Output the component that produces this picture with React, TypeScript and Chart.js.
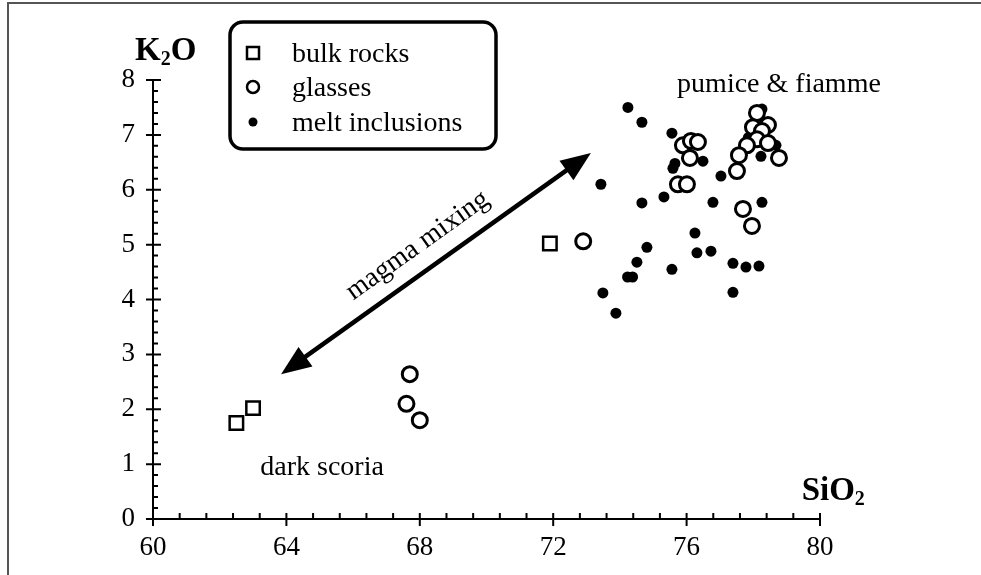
import { useEffect, useRef } from "react";
import { Chart, registerables } from "chart.js";

Chart.register(...registerables);

// ---- data (SiO2 wt%, K2O wt%) ----
const bulkRocksSiO2 = [62.5, 63.0, 71.9];
const bulkRocksK2O = [1.75, 2.02, 5.02];

const glassesSiO2 = [
  67.7, 67.6, 68.0, 72.9,
  75.89, 76.13, 76.34, 76.1, 75.74, 76.01,
  78.11, 78.44, 77.99, 78.26, 78.11, 78.44, 77.81, 77.57, 77.51, 78.77,
  77.69, 77.96,
];
const glassesK2O = [
  2.64, 2.1, 1.8, 5.06,
  6.81, 6.89, 6.87, 6.58, 6.1, 6.1,
  7.4, 7.18, 7.14, 7.07, 6.92, 6.85, 6.81, 6.63, 6.34, 6.58,
  5.65, 5.34,
];

const meltSiO2 = [
  74.24, 74.66, 75.56, 76.49, 75.65, 75.59, 73.43, 77.03, 74.66, 75.32,
  76.79, 78.26, 76.25, 74.81, 74.51, 74.23, 74.38, 76.31, 76.73, 75.56,
  77.39, 77.78, 78.17, 73.49, 77.39, 73.88, 78.26, 78.68, 78.23, 77.85,
];
const meltK2O = [
  7.5, 7.23, 7.03, 6.52, 6.48, 6.39, 6.1, 6.25, 5.76, 5.87,
  5.77, 5.77, 5.21, 4.95, 4.68, 4.41, 4.41, 4.85, 4.88, 4.55,
  4.66, 4.59, 4.61, 4.12, 4.13, 3.75, 7.47, 6.81, 6.61, 6.95,
];

const seriesLabels = ["bulk rocks", "glasses", "melt inclusions"];

const xTickValues = [60, 64, 68, 72, 76, 80];
const yTickValues = [0, 1, 2, 3, 4, 5, 6, 7, 8];
const X_MINOR = 0.8;
const Y_MINOR = 0.2;

// arrow ends (data coordinates)
const arrowLow = { x: 63.84, y: 2.64 };
const arrowHigh = { x: 73.13, y: 6.67 };

const SERIF = "'Liberation Serif', 'DejaVu Serif', serif";

function pairs(xs: number[], ys: number[]) {
  return xs.map((x, i) => ({ x, y: ys[i] }));
}

const decorPlugin = {
  id: "decor",
  afterDraw(chart: any) {
    const { ctx } = chart;
    const xs = chart.scales.x;
    const ys = chart.scales.y;
    const px = (v: number) => xs.getPixelForValue(v);
    const py = (v: number) => ys.getPixelForValue(v);
    const x0 = px(60);
    const y0 = py(0);
    ctx.save();
    ctx.strokeStyle = "#000";
    ctx.fillStyle = "#000";
    ctx.lineWidth = 2;
    ctx.lineCap = "butt";

    // x minor ticks (inward)
    ctx.beginPath();
    for (let i = 0; 60 + i * X_MINOR <= 80.0001; i++) {
      const p = px(60 + i * X_MINOR);
      ctx.moveTo(p, y0);
      ctx.lineTo(p, y0 - 6);
    }
    // x major ticks (crossing)
    xTickValues.forEach((v) => {
      const p = px(v);
      ctx.moveTo(p, y0 - 6);
      ctx.lineTo(p, y0 + 7);
    });
    // y minor ticks (inward)
    for (let i = 0; i * Y_MINOR <= 8.0001; i++) {
      const p = py(i * Y_MINOR);
      ctx.moveTo(x0, p);
      ctx.lineTo(x0 + 5, p);
    }
    yTickValues.forEach((v) => {
      const p = py(v);
      ctx.moveTo(x0 - 7, p);
      ctx.lineTo(x0 + 8, p);
    });
    ctx.stroke();

    // double-headed arrow
    const ax1 = px(arrowLow.x), ay1 = py(arrowLow.y);
    const ax2 = px(arrowHigh.x), ay2 = py(arrowHigh.y);
    const ang = Math.atan2(ay2 - ay1, ax2 - ax1);
    const headLen = 30, headHalf = 12;
    ctx.lineWidth = 4.5;
    ctx.beginPath();
    ctx.moveTo(ax1 + Math.cos(ang) * headLen * 0.8, ay1 + Math.sin(ang) * headLen * 0.8);
    ctx.lineTo(ax2 - Math.cos(ang) * headLen * 0.8, ay2 - Math.sin(ang) * headLen * 0.8);
    ctx.stroke();
    const head = (tx: number, ty: number, a: number) => {
      const bx = tx - Math.cos(a) * headLen;
      const by = ty - Math.sin(a) * headLen;
      ctx.beginPath();
      ctx.moveTo(tx, ty);
      ctx.lineTo(bx + Math.sin(a) * headHalf, by - Math.cos(a) * headHalf);
      ctx.lineTo(bx - Math.sin(a) * headHalf, by + Math.cos(a) * headHalf);
      ctx.closePath();
      ctx.fill();
    };
    head(ax2, ay2, ang);
    head(ax1, ay1, ang + Math.PI);

    // "magma mixing" along the arrow
    const mx = (ax1 + ax2) / 2 - 14;
    const my = (ay1 + ay2) / 2 - 12;
    ctx.save();
    ctx.translate(mx, my);
    ctx.rotate(ang);
    ctx.font = `28px ${SERIF}`;
    ctx.textAlign = "center";
    ctx.textBaseline = "alphabetic";
    ctx.fillText("magma mixing", 0, 0);
    ctx.restore();

    // labels
    ctx.font = `28px ${SERIF}`;
    ctx.textAlign = "center";
    ctx.textBaseline = "alphabetic";
    ctx.fillText("pumice & fiamme", px(78.77), py(7.78));
    ctx.fillText("dark scoria", px(65.07), py(0.8));

    // axis titles
    const drawSub = (main1: string, sub: string, main2: string, x: number, y: number) => {
      ctx.textAlign = "left";
      ctx.font = `bold 33px ${SERIF}`;
      ctx.fillText(main1, x, y);
      let w = ctx.measureText(main1).width;
      ctx.font = `bold 20px ${SERIF}`;
      ctx.fillText(sub, x + w, y + 5);
      w += ctx.measureText(sub).width;
      ctx.font = `bold 33px ${SERIF}`;
      ctx.fillText(main2, x + w, y);
    };
    drawSub("K", "2", "O", x0 - 18, py(8) - 20);
    drawSub("SiO", "2", "", px(79.45), py(0.35));

    // legend box
    const lx = 230, ly = 22, lw = 266, lh = 127, r = 13;
    ctx.lineWidth = 3.5;
    ctx.strokeStyle = "#000";
    ctx.beginPath();
    ctx.roundRect(lx, ly, lw, lh, r);
    ctx.stroke();
    const items = chart.data.datasets;
    const rows = [62, 96, 131];
    items.forEach((ds: any, i: number) => {
      const cy = rows[i] - 9;
      const cx = 253;
      ctx.lineWidth = 2.5;
      if (ds.pointStyle === "rect") {
        ctx.fillStyle = "#fff";
        ctx.fillRect(cx - 6, cy - 6, 12, 12);
        ctx.strokeRect(cx - 6, cy - 6, 12, 12);
      } else if (ds.backgroundColor === "#fff") {
        ctx.fillStyle = "#fff";
        ctx.beginPath();
        ctx.arc(cx, cy, 6, 0, Math.PI * 2);
        ctx.fill();
        ctx.stroke();
      } else {
        ctx.fillStyle = "#000";
        ctx.beginPath();
        ctx.arc(cx, cy, 4.5, 0, Math.PI * 2);
        ctx.fill();
      }
      ctx.fillStyle = "#000";
      ctx.font = `28px ${SERIF}`;
      ctx.textAlign = "left";
      ctx.fillText(ds.label, 292, rows[i]);
    });

    // frame lines of the figure
    ctx.lineWidth = 2;
    ctx.strokeStyle = "#555";
    ctx.beginPath();
    ctx.moveTo(8, 575);
    ctx.lineTo(8, 3);
    ctx.lineTo(981, 3);
    ctx.stroke();
    ctx.restore();
  },
};

export default function App() {
  const ref = useRef<HTMLCanvasElement>(null);
  useEffect(() => {
    if (!ref.current) return;
    const chart = new Chart(ref.current, {
      type: "scatter",
      data: {
        datasets: [
          {
            label: seriesLabels[0],
            data: pairs(bulkRocksSiO2, bulkRocksK2O),
            pointStyle: "rect",
            pointRadius: 9.5,
            borderWidth: 2.5,
            borderColor: "#000",
            backgroundColor: "#fff",
          },
          {
            label: seriesLabels[1],
            data: pairs(glassesSiO2, glassesK2O),
            pointStyle: "circle",
            pointRadius: 7.5,
            borderWidth: 3,
            borderColor: "#000",
            backgroundColor: "#fff",
          },
          {
            label: seriesLabels[2],
            data: pairs(meltSiO2, meltK2O),
            pointStyle: "circle",
            pointRadius: 5.5,
            borderWidth: 0,
            borderColor: "#000",
            backgroundColor: "#000",
          },
        ],
      },
      options: {
        responsive: false,
        animation: false,
        layout: { padding: { left: 0, top: 80, right: 161, bottom: 0 } },
        plugins: { legend: { display: false }, tooltip: { enabled: false } },
        scales: {
          x: {
            type: "linear",
            min: 60,
            max: 80,
            afterFit: (s: any) => { s.height = 56; },
            afterBuildTicks: (s: any) => { s.ticks = xTickValues.map((v) => ({ value: v })); },
            grid: { display: false, drawTicks: false },
            border: { display: true, color: "#000", width: 2 },
            ticks: { color: "#000", padding: 13, font: { family: SERIF, size: 27 }, maxRotation: 0 },
          },
          y: {
            type: "linear",
            min: 0,
            max: 8,
            afterFit: (s: any) => { s.width = 153; },
            afterBuildTicks: (s: any) => { s.ticks = yTickValues.map((v) => ({ value: v })); },
            grid: { display: false, drawTicks: false },
            border: { display: true, color: "#000", width: 2 },
            ticks: { color: "#000", padding: 18, font: { family: SERIF, size: 27 } },
          },
        },
      },
      plugins: [decorPlugin],
    });
    return () => chart.destroy();
  }, []);
  return (
    <canvas
      ref={ref}
      width={981}
      height={575}
      style={{ position: "absolute", left: 0, top: 0, width: 981, height: 575 }}
    />
  );
}
